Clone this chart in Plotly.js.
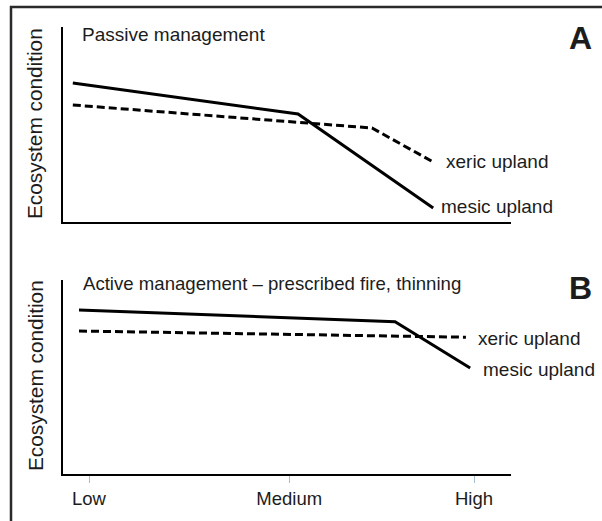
<!DOCTYPE html>
<html>
<head>
<meta charset="utf-8">
<script src="https://cdn.plot.ly/plotly-3.0.1.min.js"></script>
<style>html,body{margin:0;padding:0;background:#fff;}#chart{width:602px;height:521px;}</style>
</head>
<body>
<div id="chart"></div>
<script>
// ---- data ----
const tickVals = [0, 52, 100];
const tickLabels = ["Low", "Medium", "High"];

const passiveMesicX = [-4.2, 54.3, 89.4];
const passiveMesicY = [71.3, 55.4, 7.2];
const passiveXericX = [-4.2, 73.5, 89.4];
const passiveXericY = [60.0, 48.2, 30.8];

const activeMesicX = [-2.6, 79.5, 99.0];
const activeMesicY = [84.5, 78.5, 54.6];
const activeXericX = [-2.6, 97.9];
const activeXericY = [73.7, 70.5];

const seriesNames = ["mesic upland", "xeric upland"];
const panelTitles = ["Passive management", "Active management \u2013 prescribed fire, thinning"];
const panelLetters = ["A", "B"];
const yTitle = "Ecosystem condition";

// ---- layout helpers ----
const W = 602, H = 521;
const px = x => x / W;
const py = y => 1 - y / H;
const FONT = "Liberation Sans, Arial, sans-serif";
const TXT = "#1c1c1c";

const solid = {color: "#000", width: 3};
const dashed = {color: "#000", width: 3, dash: "8px,4px"};

const traces = [
  {x: passiveMesicX, y: passiveMesicY, xaxis: "x", yaxis: "y", mode: "lines", line: solid, name: seriesNames[0]},
  {x: passiveXericX, y: passiveXericY, xaxis: "x", yaxis: "y", mode: "lines", line: dashed, name: seriesNames[1]},
  {x: activeMesicX, y: activeMesicY, xaxis: "x2", yaxis: "y2", mode: "lines", line: solid, name: seriesNames[0]},
  {x: activeXericX, y: activeXericY, xaxis: "x2", yaxis: "y2", mode: "lines", line: dashed, name: seriesNames[1]}
];

const xRange = [(63 - 89) / 3.85, (511 - 89) / 3.85];
const baseX = {
  range: xRange, domain: [px(63), px(511)], showgrid: false, zeroline: false,
  showline: true, linecolor: "#000", linewidth: 2, fixedrange: true
};
const baseY = {
  range: [0, 100], showgrid: false, zeroline: false, showticklabels: false, ticks: "",
  showline: true, linecolor: "#000", linewidth: 2, fixedrange: true
};

const ann = [];
// panel titles
ann.push({text: panelTitles[0], xref: "paper", yref: "paper", x: px(80), y: py(35), xanchor: "left", yanchor: "middle", showarrow: false, font: {family: FONT, size: 19, color: TXT}});
ann.push({text: panelTitles[1], xref: "paper", yref: "paper", x: px(81), y: py(283), xanchor: "left", yanchor: "middle", showarrow: false, font: {family: FONT, size: 18.6, color: TXT}});
// letters
ann.push({text: "<b>" + panelLetters[0] + "</b>", xref: "paper", yref: "paper", x: px(580), y: py(38), xanchor: "center", yanchor: "middle", showarrow: false, font: {family: FONT, size: 32, color: TXT}});
ann.push({text: "<b>" + panelLetters[1] + "</b>", xref: "paper", yref: "paper", x: px(580), y: py(288), xanchor: "center", yanchor: "middle", showarrow: false, font: {family: FONT, size: 32, color: TXT}});
// y titles
ann.push({text: yTitle, xref: "paper", yref: "paper", x: px(35), y: py(124), textangle: -90, xanchor: "center", yanchor: "middle", showarrow: false, font: {family: FONT, size: 20.8, color: TXT}});
ann.push({text: yTitle, xref: "paper", yref: "paper", x: px(35), y: py(376), textangle: -90, xanchor: "center", yanchor: "middle", showarrow: false, font: {family: FONT, size: 20.8, color: TXT}});
// series labels at line ends
const lab = (xs, ys, name, xa, ya, shift, yshift) => ({
  text: name, xref: xa, yref: ya, x: xs[xs.length - 1], y: ys[ys.length - 1],
  xanchor: "left", yanchor: "middle", xshift: shift, yshift: yshift || 0, showarrow: false,
  font: {family: FONT, size: 19, color: TXT}
});
ann.push(lab(passiveXericX, passiveXericY, seriesNames[1], "x", "y", 11, 0));
ann.push(lab(passiveMesicX, passiveMesicY, seriesNames[0], "x", "y", 6, 1));
ann.push(lab(activeXericX, activeXericY, seriesNames[1], "x2", "y2", 10, -1));
ann.push(lab(activeMesicX, activeMesicY, seriesNames[0], "x2", "y2", 11, -1));

const layout = {
  width: W, height: H, margin: {l: 0, r: 0, t: 0, b: 0},
  paper_bgcolor: "#fff", plot_bgcolor: "rgba(0,0,0,0)", showlegend: false,
  font: {family: FONT, color: TXT},
  xaxis: Object.assign({}, baseX, {anchor: "y", showticklabels: false, ticks: ""}),
  yaxis: Object.assign({}, baseY, {anchor: "x", domain: [py(222), py(27)]}),
  xaxis2: Object.assign({}, baseX, {
    anchor: "y2", tickmode: "array", tickvals: tickVals, ticktext: tickLabels,
    ticks: "outside", ticklen: 7, tickwidth: 1, tickcolor: "#a7bccd",
    tickfont: {family: FONT, size: 18.5, color: TXT}
  }),
  yaxis2: Object.assign({}, baseY, {anchor: "x2", domain: [py(474), py(280)]}),
  annotations: ann,
  shapes: [{
    type: "rect", xref: "paper", yref: "paper", x0: px(11), x1: 1.02, y0: -0.02, y1: py(7),
    line: {color: "#2a2a2a", width: 2.5}, fillcolor: "rgba(0,0,0,0)", layer: "above"
  }]
};

Plotly.newPlot("chart", traces, layout, {staticPlot: true, displayModeBar: false});
</script>
</body>
</html>
